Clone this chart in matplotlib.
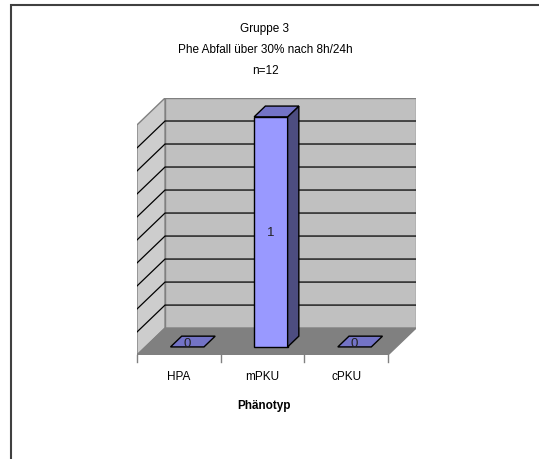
import matplotlib.pyplot as plt
from matplotlib.patches import Polygon, Rectangle

plt.rcParams['font.family'] = ['Liberation Sans', 'DejaVu Sans']

# Data
categories = ['HPA', 'mPKU', 'cPKU']
values = [0, 1, 0]
title_lines = ['Gruppe 3', 'Phe Abfall über 30% nach 8h/24h', 'n=12']
x_label = 'Phänotyp'

v_max = 1.0
grid_step = 0.1

# Oblique 3D look: depth shifts points right and up
OX = 0.335        # depth offset in category units
OY = 0.117        # depth offset in value units
bar_w = 0.4
d0, d1 = 0.3, 0.7  # bar depth range

front_col = '#9999FF'
side_col = '#4D4D80'
top_col = '#7373C6'
fs = 8.5


def proj(x, v, d):
    return (x + d * OX, v / v_max + d * OY)


def face(ax, pts, fc, ec='black', lw=1.0, z=1):
    ax.add_patch(Polygon([proj(*p) for p in pts], closed=True, fc=fc, ec=ec,
                         lw=lw, zorder=z, joinstyle='miter'))


fig = plt.figure(figsize=(5.39, 4.60), dpi=100)
ax = fig.add_axes([137 / 539, 104 / 460, 279 / 539, 257 / 460])
n = len(categories)
ax.set_xlim(0, n + OX)
ax.set_ylim(0, 1 + OY)
ax.axis('off')

# walls and floor
face(ax, [(0, 0, 1), (n, 0, 1), (n, v_max, 1), (0, v_max, 1)], '#C0C0C0', '#808080', z=1)
face(ax, [(0, 0, 0), (0, 0, 1), (0, v_max, 1), (0, v_max, 0)], '#CDCDCD', '#808080', z=1)

# gridlines on back and left wall
k = 1
while k * grid_step < v_max - 1e-9:
    g = k * grid_step
    xs, ys = zip(proj(0, g, 0), proj(0, g, 1), proj(n, g, 1))
    ax.plot(xs, ys, color='black', lw=0.9, zorder=2)
    k += 1

face(ax, [(0, 0, 0), (n, 0, 0), (n, 0, 1), (0, 0, 1)], '#808080', '#808080', z=3)

# bars
for i, (cat, v) in enumerate(zip(categories, values)):
    xl = i + 0.5 - bar_w / 2
    xr = i + 0.5 + bar_w / 2
    if v > 0:
        face(ax, [(xl, 0, d0), (xr, 0, d0), (xr, v, d0), (xl, v, d0)], front_col, z=4)
        face(ax, [(xr, 0, d0), (xr, 0, d1), (xr, v, d1), (xr, v, d0)], side_col, z=4)
    face(ax, [(xl, v, d0), (xr, v, d0), (xr, v, d1), (xl, v, d1)], top_col, z=4)
    lx, ly = proj(i + 0.5, v / 2, d0)
    ax.text(lx, ly + (0.015 if v == 0 else 0), str(v), ha='center', va='center',
            fontsize=fs + 1, color='#222222', zorder=5)

    # category labels along the front floor edge
    ax.text(i + 0.5, -0.09, cat, ha='center', va='center', fontsize=fs, clip_on=False)

for i in range(n + 1):
    ax.plot([i, i], [0, -0.03], color='#808080', lw=1, clip_on=False)

ax.text(n / 2 + 0.02, -0.218, x_label, ha='center', va='center', fontsize=fs,
        fontweight='bold', clip_on=False)

# title
for line, y in zip(title_lines, [29, 50, 71]):
    fig.text(265 / 539, 1 - y / 460, line, ha='center', va='center', fontsize=fs)

# chart area border
fig.add_artist(Rectangle((11 / 539, -0.1), 1.0, 454 / 460 + 0.1, transform=fig.transFigure,
                         fill=False, ec='#404040', lw=1.5))

fig.savefig('out.png', dpi=100)
